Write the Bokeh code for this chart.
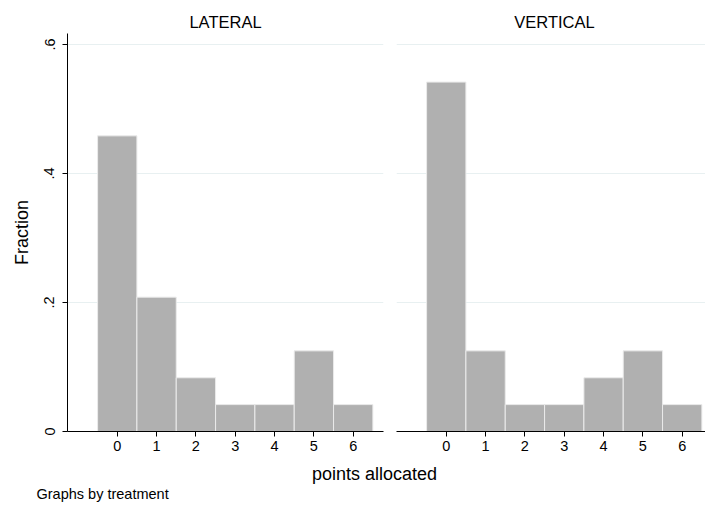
from bokeh.plotting import figure
from bokeh.layouts import column, row
from bokeh.models import Range1d, FixedTicker, Label
from bokeh.embed import file_html
from bokeh.resources import INLINE

# ---- data ----
points = [0, 1, 2, 3, 4, 5, 6]
lateral = [0.4583, 0.2083, 0.0833, 0.0417, 0.0417, 0.125, 0.0417]
vertical = [0.5417, 0.125, 0.0417, 0.0417, 0.0833, 0.125, 0.0417]
panel_titles = ["LATERAL", "VERTICAL"]
y_ticks = [0, 0.2, 0.4, 0.6]
y_tick_labels = ["0", ".2", ".4", ".6"]
x_ticks = [0, 1, 2, 3, 4, 5, 6]
y_label = "Fraction"
x_label = "points allocated"
note = "Graphs by treatment"

FONT = "Liberation Sans"
BAR = "#b0b0b0"
BAR_LINE = "#ebebeb"
GRID = "#e8f0f1"

X_LO, X_HI = -1.265, 6.77
Y_TOP = 0.617
UNIT = 316 / (X_HI - X_LO)
TOTAL_W = 705


def strip(h):
    s = figure(output_backend="svg", toolbar_location=None,
               width=TOTAL_W, height=h, x_range=Range1d(0, TOTAL_W),
               y_range=Range1d(0, h), min_border=0,
               x_axis_location=None, y_axis_location=None)
    s.outline_line_color = None
    s.xgrid.visible = False
    s.ygrid.visible = False
    return s


def panel(vals, left, frame_w, x_hi, border_left, border_right):
    p = figure(output_backend="svg", toolbar_location=None,
               frame_width=frame_w, frame_height=398,
               x_range=Range1d(X_LO, x_hi), y_range=Range1d(0, Y_TOP),
               min_border_left=border_left, min_border_right=border_right,
               min_border_top=0, min_border_bottom=28,
               y_axis_location="left" if left else None)
    p.outline_line_color = None
    p.background_fill_color = "white"
    p.border_fill_color = "white"
    p.vbar(x=points, top=vals, width=1.0, bottom=0,
           fill_color=BAR, line_color=BAR_LINE, line_width=1)
    p.xgrid.visible = False
    p.ygrid.ticker = FixedTicker(ticks=y_ticks[1:])
    p.ygrid.grid_line_color = GRID
    p.ygrid.grid_line_width = 1
    xa = p.xaxis[0]
    xa.ticker = FixedTicker(ticks=x_ticks)
    xa.major_tick_in = 0
    xa.major_tick_out = 5
    xa.minor_tick_line_color = None
    xa.axis_line_color = "black"
    xa.major_tick_line_color = "black"
    xa.major_label_text_font = FONT
    xa.major_label_text_font_size = "14.5px"
    xa.major_label_text_color = "black"
    xa.major_label_standoff = 4
    if left:
        ya = p.yaxis[0]
        ya.ticker = FixedTicker(ticks=y_ticks)
        ya.major_label_overrides = dict(zip(y_ticks, y_tick_labels))
        ya.major_label_orientation = "vertical"
        ya.major_tick_in = 0
        ya.major_tick_out = 5
        ya.minor_tick_line_color = None
        ya.axis_line_color = "black"
        ya.major_tick_line_color = "black"
        ya.major_label_text_font = FONT
        ya.major_label_text_font_size = "14.5px"
        ya.major_label_text_color = "black"
        ya.major_label_standoff = 8
        ya.axis_label = y_label
        ya.axis_label_text_font = FONT
        ya.axis_label_text_font_size = "18px"
        ya.axis_label_text_font_style = "normal"
        ya.axis_label_text_color = "black"
        ya.axis_label_standoff = 10
    return p


p1 = panel(lateral, True, 316, X_HI, 67, 6)
right_w = 309
p2 = panel(vertical, False, right_w, X_LO + right_w / UNIT, 7, 0)

# panel titles, centred over each panel
center = (X_LO + X_HI) / 2
top = strip(33)
for left_px, t in zip([67, 396], panel_titles):
    top.add_layout(Label(x=left_px + (center - X_LO) * UNIT, y=12, text=t,
                         text_align="center", text_baseline="middle",
                         text_font=FONT, text_font_size="16.5px",
                         text_color="black"))

bottom = strip(48)
bottom.add_layout(Label(x=374, y=33.5, text=x_label, text_align="center",
                        text_baseline="middle", text_font=FONT,
                        text_font_size="18px", text_color="black"))
bottom.add_layout(Label(x=36, y=13.5, text=note, text_align="left",
                        text_baseline="middle", text_font=FONT,
                        text_font_size="14.5px", text_color="black"))

layout = column(top, row(p1, p2, spacing=0), bottom, spacing=0)
open("out.html", "w").write(file_html(layout, INLINE))
